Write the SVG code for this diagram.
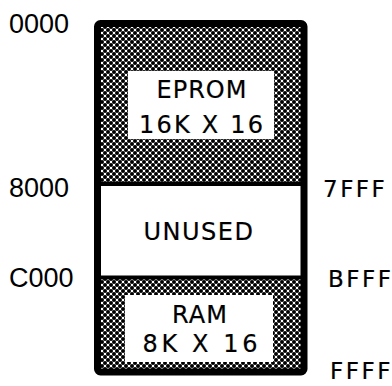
<svg xmlns="http://www.w3.org/2000/svg" width="392" height="386" viewBox="0 0 392 386">
<style>
.lbl{font-family:"DejaVu Sans","Liberation Sans",sans-serif;fill:#000;stroke:#000;stroke-width:0.2}
.addrL{font-family:"Liberation Sans","DejaVu Sans",sans-serif;font-size:27px;stroke:none}
.addrR{font-size:23px;letter-spacing:2.5px}
.name{font-size:24px;text-anchor:middle}
.win{fill:#fff;stroke:none}
</style>
<defs>
<pattern id="dots" width="6" height="6" patternUnits="userSpaceOnUse">
<rect width="6" height="6" fill="#fff"/>
<circle cx="0" cy="0" r="2" fill="#000"/>
<circle cx="6" cy="0" r="2" fill="#000"/>
<circle cx="0" cy="6" r="2" fill="#000"/>
<circle cx="6" cy="6" r="2" fill="#000"/>
<circle cx="3" cy="3" r="2" fill="#000"/>
</pattern>
</defs>
<g id="eprom">
<rect x="97" y="23" width="207" height="160" fill="url(#dots)"/>
<rect class="win" x="128" y="71" width="146" height="68"/>
<text class="lbl name" x="202" y="98" letter-spacing="1">EPROM</text>
<text class="lbl name" x="201" y="133" font-size="25" textLength="124" lengthAdjust="spacing">16K X 16</text>
</g>
<g id="unused">
<rect x="97" y="184" width="207" height="93" fill="#fff"/>
<text class="lbl name" x="199" y="240" letter-spacing="1.5">UNUSED</text>
</g>
<g id="ram">
<rect x="97" y="278" width="207" height="93" fill="url(#dots)"/>
<rect class="win" x="125" y="295" width="148" height="67"/>
<text class="lbl name" x="200" y="323" letter-spacing="1">RAM</text>
<text class="lbl name" x="200" y="352" font-size="25" textLength="115" lengthAdjust="spacing">8K X 16</text>
</g>
<g id="frame" fill="none" stroke="#000">
<rect x="97.5" y="23.5" width="206.5" height="348.5" rx="3" stroke-width="7"/>
<line x1="97" y1="184" x2="304" y2="184" stroke-width="4"/>
<line x1="97" y1="277.5" x2="304" y2="277.5" stroke-width="4"/>
</g>
<g id="addresses">
<text class="lbl addrL" x="9" y="33">0000</text>
<text class="lbl addrL" x="9" y="197">8000</text>
<text class="lbl addrL" x="9" y="287">C000</text>
<text class="lbl addrR" x="323" y="197">7FFF</text>
<text class="lbl addrR" x="328" y="287">BFFF</text>
<text class="lbl addrR" x="330" y="379">FFFF</text>
</g>
</svg>
